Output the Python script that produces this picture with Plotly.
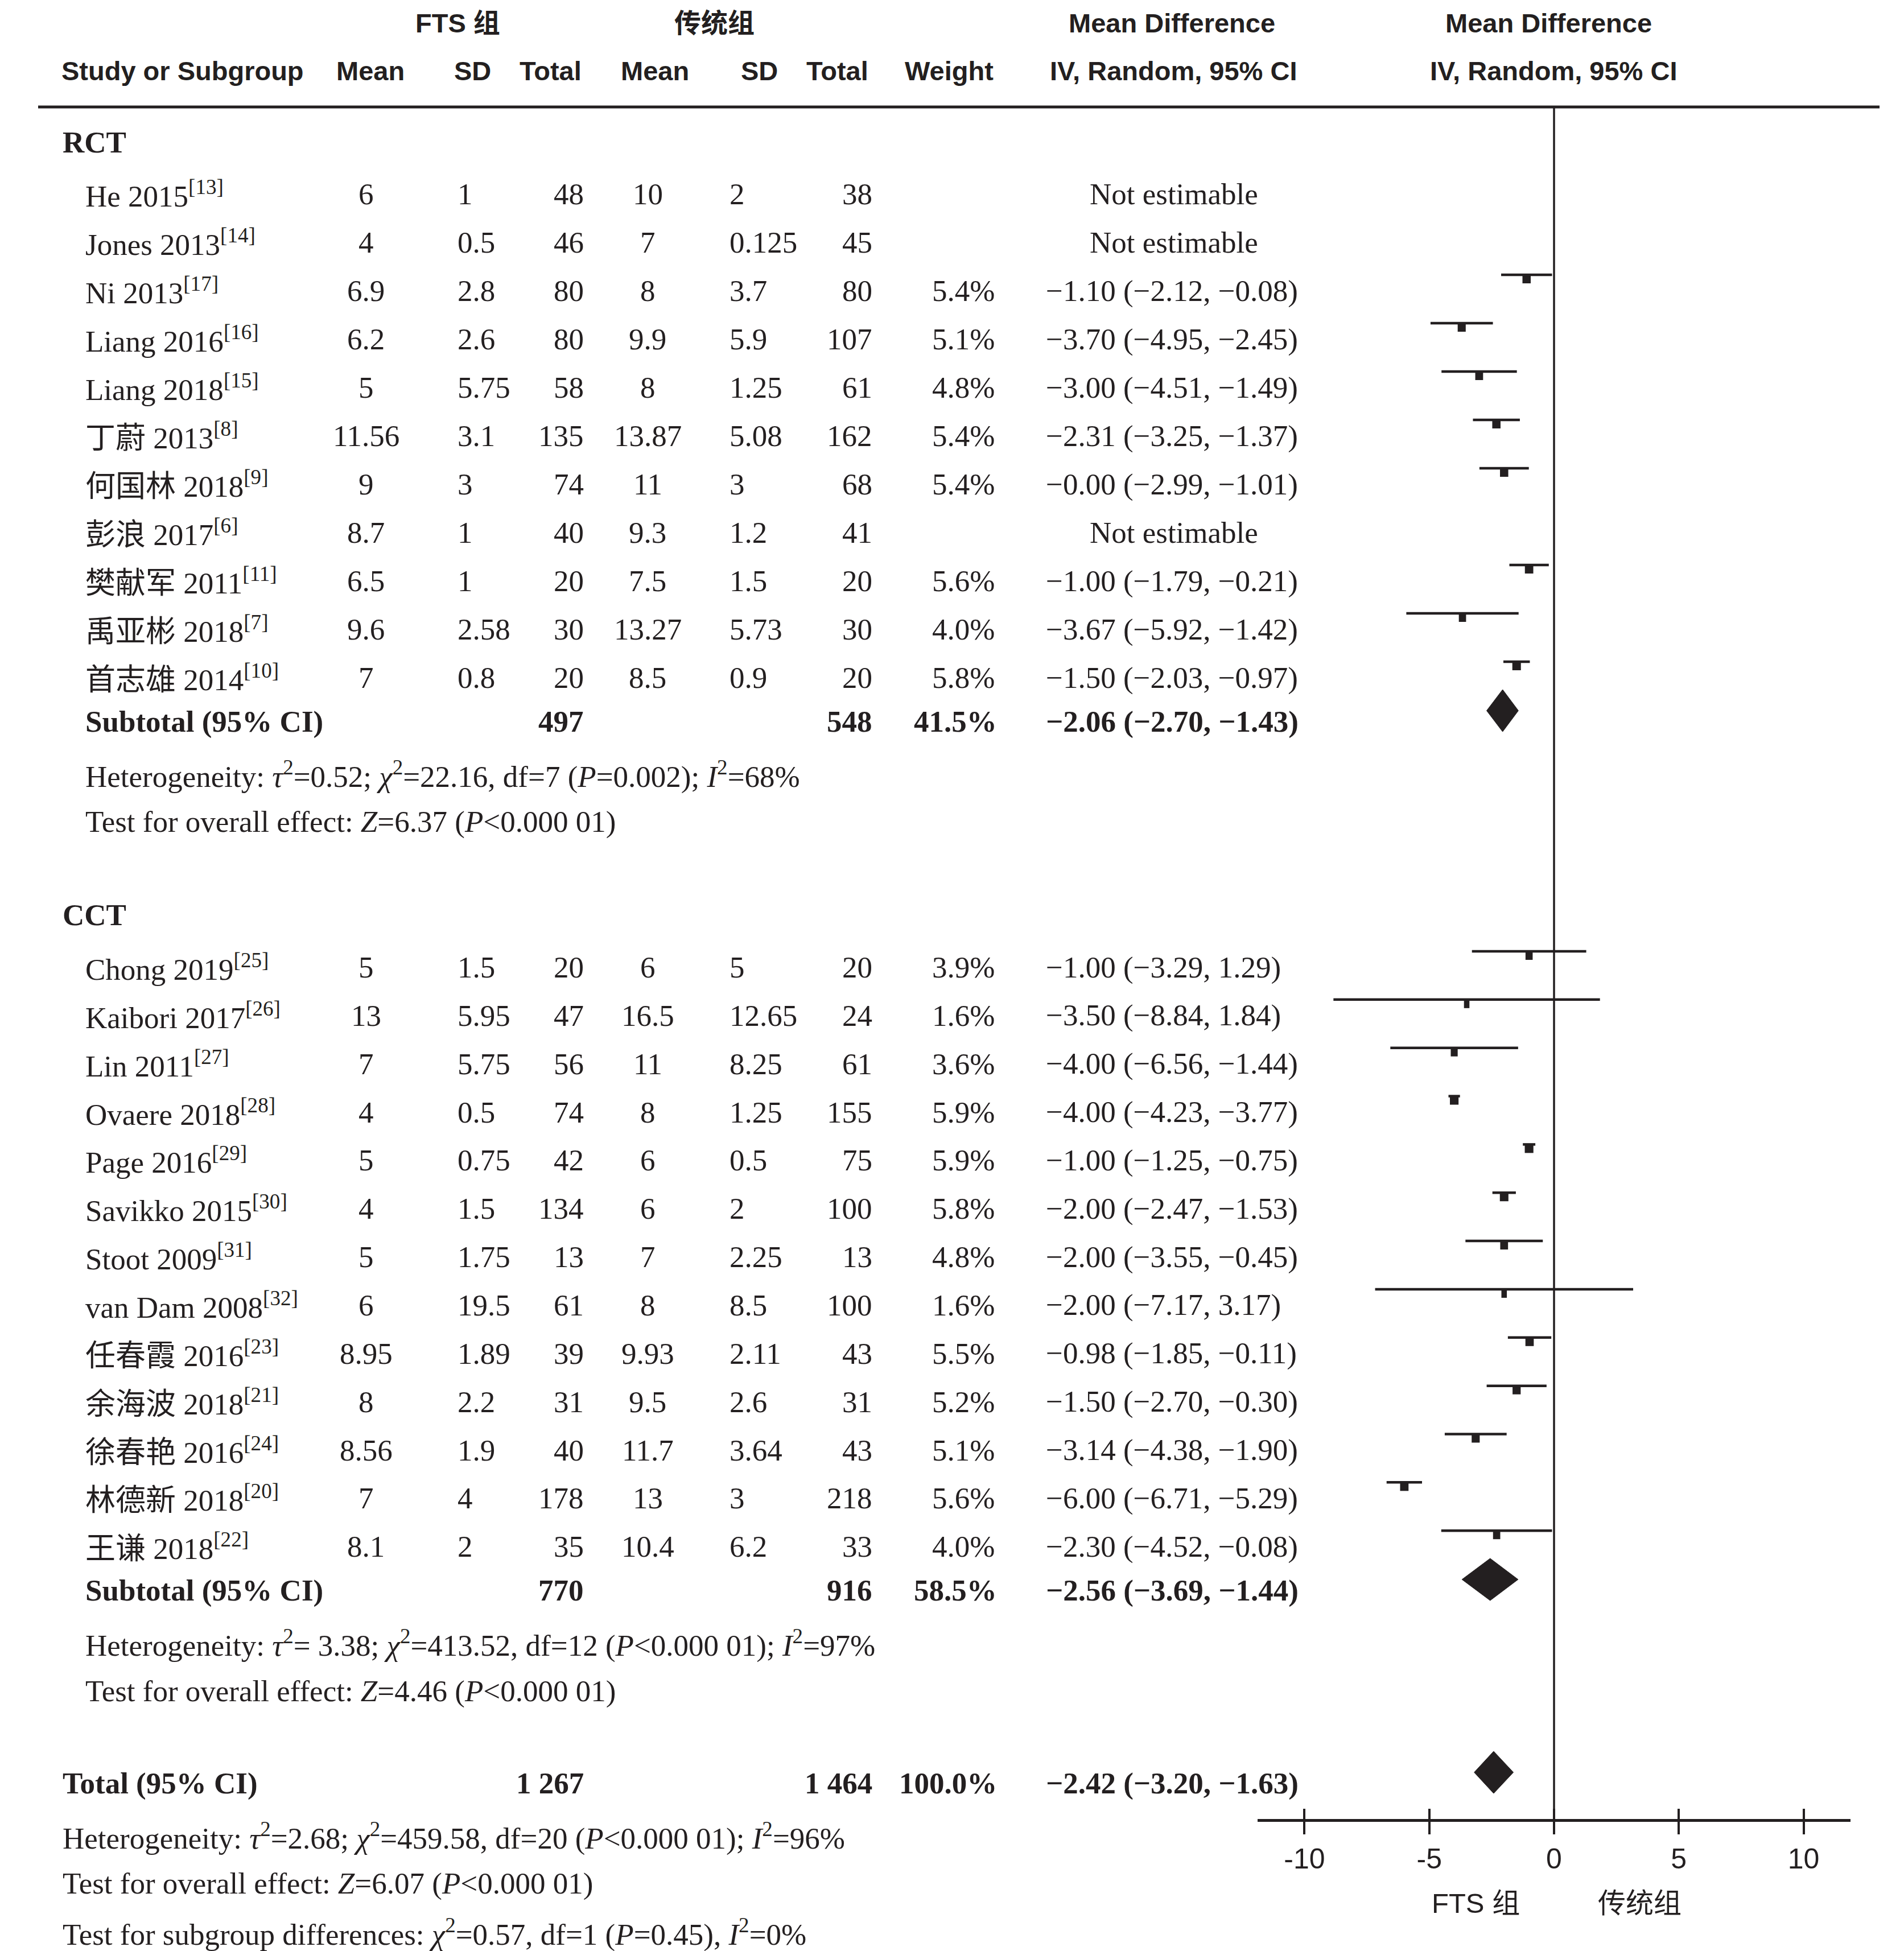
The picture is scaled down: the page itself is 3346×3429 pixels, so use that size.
import plotly.graph_objects as go

# ---------------- data ----------------
rct_names = ["He 2015<sup>[13]</sup>", "Jones 2013<sup>[14]</sup>", "Ni 2013<sup>[17]</sup>",
             "Liang 2016<sup>[16]</sup>", "Liang 2018<sup>[15]</sup>", "丁蔚 2013<sup>[8]</sup>",
             "何国林 2018<sup>[9]</sup>", "彭浪 2017<sup>[6]</sup>", "樊献军 2011<sup>[11]</sup>",
             "禹亚彬 2018<sup>[7]</sup>", "首志雄 2014<sup>[10]</sup>"]
rct_fts_mean = ["6", "4", "6.9", "6.2", "5", "11.56", "9", "8.7", "6.5", "9.6", "7"]
rct_fts_sd = ["1", "0.5", "2.8", "2.6", "5.75", "3.1", "3", "1", "1", "2.58", "0.8"]
rct_fts_n = ["48", "46", "80", "80", "58", "135", "74", "40", "20", "30", "20"]
rct_ctl_mean = ["10", "7", "8", "9.9", "8", "13.87", "11", "9.3", "7.5", "13.27", "8.5"]
rct_ctl_sd = ["2", "0.125", "3.7", "5.9", "1.25", "5.08", "3", "1.2", "1.5", "5.73", "0.9"]
rct_ctl_n = ["38", "45", "80", "107", "61", "162", "68", "41", "20", "30", "20"]
rct_weight = ["", "", "5.4%", "5.1%", "4.8%", "5.4%", "5.4%", "", "5.6%", "4.0%", "5.8%"]
rct_ci_text = ["Not estimable", "Not estimable", "−1.10 (−2.12, −0.08)", "−3.70 (−4.95, −2.45)",
               "−3.00 (−4.51, −1.49)", "−2.31 (−3.25, −1.37)", "−0.00 (−2.99, −1.01)",
               "Not estimable", "−1.00 (−1.79, −0.21)", "−3.67 (−5.92, −1.42)", "−1.50 (−2.03, −0.97)"]
rct_md = [None, None, -1.10, -3.70, -3.00, -2.31, -2.00, None, -1.00, -3.67, -1.50]
rct_lo = [None, None, -2.12, -4.95, -4.51, -3.25, -2.99, None, -1.79, -5.92, -2.03]
rct_hi = [None, None, -0.08, -2.45, -1.49, -1.37, -1.01, None, -0.21, -1.42, -0.97]
rct_w = [0, 0, 5.4, 5.1, 4.8, 5.4, 5.4, 0, 5.6, 4.0, 5.8]

cct_names = ["Chong 2019<sup>[25]</sup>", "Kaibori 2017<sup>[26]</sup>", "Lin 2011<sup>[27]</sup>",
             "Ovaere 2018<sup>[28]</sup>", "Page 2016<sup>[29]</sup>", "Savikko 2015<sup>[30]</sup>",
             "Stoot 2009<sup>[31]</sup>", "van Dam 2008<sup>[32]</sup>", "任春霞 2016<sup>[23]</sup>",
             "余海波 2018<sup>[21]</sup>", "徐春艳 2016<sup>[24]</sup>", "林德新 2018<sup>[20]</sup>",
             "王谦 2018<sup>[22]</sup>"]
cct_fts_mean = ["5", "13", "7", "4", "5", "4", "5", "6", "8.95", "8", "8.56", "7", "8.1"]
cct_fts_sd = ["1.5", "5.95", "5.75", "0.5", "0.75", "1.5", "1.75", "19.5", "1.89", "2.2", "1.9", "4", "2"]
cct_fts_n = ["20", "47", "56", "74", "42", "134", "13", "61", "39", "31", "40", "178", "35"]
cct_ctl_mean = ["6", "16.5", "11", "8", "6", "6", "7", "8", "9.93", "9.5", "11.7", "13", "10.4"]
cct_ctl_sd = ["5", "12.65", "8.25", "1.25", "0.5", "2", "2.25", "8.5", "2.11", "2.6", "3.64", "3", "6.2"]
cct_ctl_n = ["20", "24", "61", "155", "75", "100", "13", "100", "43", "31", "43", "218", "33"]
cct_weight = ["3.9%", "1.6%", "3.6%", "5.9%", "5.9%", "5.8%", "4.8%", "1.6%", "5.5%", "5.2%", "5.1%", "5.6%", "4.0%"]
cct_ci_text = ["−1.00 (−3.29, 1.29)", "−3.50 (−8.84, 1.84)", "−4.00 (−6.56, −1.44)",
               "−4.00 (−4.23, −3.77)", "−1.00 (−1.25, −0.75)", "−2.00 (−2.47, −1.53)",
               "−2.00 (−3.55, −0.45)", "−2.00 (−7.17, 3.17)", "−0.98 (−1.85, −0.11)",
               "−1.50 (−2.70, −0.30)", "−3.14 (−4.38, −1.90)", "−6.00 (−6.71, −5.29)",
               "−2.30 (−4.52, −0.08)"]
cct_md = [-1.00, -3.50, -4.00, -4.00, -1.00, -2.00, -2.00, -2.00, -0.98, -1.50, -3.14, -6.00, -2.30]
cct_lo = [-3.29, -8.84, -6.56, -4.23, -1.25, -2.47, -3.55, -7.17, -1.85, -2.70, -4.38, -6.71, -4.52]
cct_hi = [1.29, 1.84, -1.44, -3.77, -0.75, -1.53, -0.45, 3.17, -0.11, -0.30, -1.90, -5.29, -0.08]
cct_w = [3.9, 1.6, 3.6, 5.9, 5.9, 5.8, 4.8, 1.6, 5.5, 5.2, 5.1, 5.6, 4.0]

# summary rows: subtotal RCT, subtotal CCT, total
sum_fts_n = ["497", "770", "1 267"]
sum_ctl_n = ["548", "916", "1 464"]
sum_weight = ["41.5%", "58.5%", "100.0%"]
sum_ci_text = ["−2.06 (−2.70, −1.43)", "−2.56 (−3.69, −1.44)", "−2.42 (−3.20, −1.63)"]
sum_md = [-2.06, -2.56, -2.42]
sum_lo = [-2.70, -3.69, -3.20]
sum_hi = [-1.43, -1.44, -1.63]

rct_het = "Heterogeneity: <i>τ</i><sup>2</sup>=0.52; <i>χ</i><sup>2</sup>=22.16, df=7 (<i>P</i>=0.002); <i>I</i><sup>2</sup>=68%"
rct_test = "Test for overall effect: <i>Z</i>=6.37 (<i>P</i><0.000 01)"
cct_het = "Heterogeneity: <i>τ</i><sup>2</sup>= 3.38; <i>χ</i><sup>2</sup>=413.52, df=12 (<i>P</i><0.000 01); <i>I</i><sup>2</sup>=97%"
cct_test = "Test for overall effect: <i>Z</i>=4.46 (<i>P</i><0.000 01)"
tot_het = "Heterogeneity: <i>τ</i><sup>2</sup>=2.68; <i>χ</i><sup>2</sup>=459.58, df=20 (<i>P</i><0.000 01); <i>I</i><sup>2</sup>=96%"
tot_test = "Test for overall effect: <i>Z</i>=6.07 (<i>P</i><0.000 01)"
sub_test = "Test for subgroup differences: <i>χ</i><sup>2</sup>=0.57, df=1 (<i>P</i>=0.45), <i>I</i><sup>2</sup>=0%"

tick_vals = [-10, -5, 0, 5, 10]
tick_text = ["-10", "-5", "0", "5", "10"]

# ---------------- layout constants ----------------
W, H = 3346, 3429
INK = "#231f20"
SERIF = "Liberation Serif, Noto Sans CJK SC, serif"
SANS = "Liberation Sans, Arial, Noto Sans CJK SC, sans-serif"
BODY = 53
HDR = 47

X_AX0, X_AX1 = 2202, 3244
XR = 11.88
AXIS_Y = 3191
HLINE_Y = 180

# columns (px)
C_NAME, C_SEC = 140, 100
C_FM, C_FS, C_FN = 635, 794, 1020
C_CM, C_CS, C_CN = 1130, 1272, 1527
C_WT, C_CI, C_NE = 1742, 1828, 2055

fig = go.Figure()
annots = []


def txt(x, y, s, anchor="left", family=SERIF, size=BODY, bold=False):
    if bold:
        s = "<b>" + s + "</b>"
    annots.append(dict(x=x / W, y=y, xref="paper", yref="y", text=s, showarrow=False,
                       xanchor=anchor, yanchor="middle",
                       font=dict(family=family, size=size, color=INK)))


# headers
hy1 = 32
txt(796, hy1, "FTS 组", "center", SANS, HDR, True)
txt(1247, hy1, "传统组", "center", SANS, HDR, True)
txt(2051, hy1, "Mean Difference", "center", SANS, HDR, True)
txt(2713, hy1, "Mean Difference", "center", SANS, HDR, True)
hy = 116
txt(98, hy, "Study or Subgroup", "left", SANS, HDR, True)
txt(643, hy, "Mean", "center", SANS, HDR, True)
txt(857, hy, "SD", "right", SANS, HDR, True)
txt(1016, hy, "Total", "right", SANS, HDR, True)
txt(1143, hy, "Mean", "center", SANS, HDR, True)
txt(1361, hy, "SD", "right", SANS, HDR, True)
txt(1520, hy, "Total", "right", SANS, HDR, True)
txt(1740, hy, "Weight", "right", SANS, HDR, True)
txt(2054, hy, "IV, Random, 95% CI", "center", SANS, HDR, True)
txt(2722, hy, "IV, Random, 95% CI", "center", SANS, HDR, True)


def study_block(names, fm, fs, fn, cm, cs, cn, wt, ci, y0, step):
    ys = []
    for i in range(len(names)):
        y = y0 + i * step
        ys.append(y)
        txt(C_NAME, y, names[i])
        txt(C_FM, y, fm[i], "center")
        txt(C_FS, y, fs[i], "left")
        txt(C_FN, y, fn[i], "right")
        txt(C_CM, y, cm[i], "center")
        txt(C_CS, y, cs[i], "left")
        txt(C_CN, y, cn[i], "right")
        if wt[i]:
            txt(C_WT, y, wt[i], "right")
        if ci[i] == "Not estimable":
            txt(C_NE, y, ci[i], "center")
        else:
            txt(C_CI, y, ci[i], "left")
    return ys


txt(C_SEC, 242, "RCT", bold=True)
rct_y = study_block(rct_names, rct_fts_mean, rct_fts_sd, rct_fts_n, rct_ctl_mean, rct_ctl_sd,
                    rct_ctl_n, rct_weight, rct_ci_text, 333, 85.0)
txt(C_SEC, 1600, "CCT", bold=True)
cct_y = study_block(cct_names, cct_fts_mean, cct_fts_sd, cct_fts_n, cct_ctl_mean, cct_ctl_sd,
                    cct_ctl_n, cct_weight, cct_ci_text, 1692, 84.85)

sum_y = [1260, 2787, 3126]
sum_lbl = ["Subtotal (95% CI)", "Subtotal (95% CI)", "Total (95% CI)"]
sum_x = [C_NAME, C_NAME, C_SEC]
for i in range(3):
    y = sum_y[i]
    txt(sum_x[i], y, sum_lbl[i], bold=True)
    txt(C_FN, y, sum_fts_n[i], "right", bold=True)
    txt(C_CN, y, sum_ctl_n[i], "right", bold=True)
    txt(C_WT + 4, y, sum_weight[i], "right", bold=True)
    txt(C_CI, y, sum_ci_text[i], "left", bold=True)

txt(C_NAME, 1353, rct_het)
txt(C_NAME, 1436, rct_test)
txt(C_NAME, 2880, cct_het)
txt(C_NAME, 2964, cct_test)
txt(C_SEC, 3219, tot_het)
txt(C_SEC, 3302, tot_test)
txt(C_SEC, 3388, sub_test)

# axis captions
txt(2585, 3337, "FTS 组", "center", SANS, 49)
txt(2873, 3337, "传统组", "center", SANS, 49)

# ---------------- forest marks ----------------
all_md = rct_md + cct_md
all_lo = rct_lo + cct_lo
all_hi = rct_hi + cct_hi
all_w = rct_w + cct_w
all_y = rct_y + cct_y

lx, ly = [], []
for md, lo, hi, w, y in zip(all_md, all_lo, all_hi, all_w, all_y):
    if md is None:
        continue
    yl = y - 28
    lx += [lo, hi, None]
    ly += [yl, yl, None]
    # weight-scaled point estimate (drawn as a block hanging under the CI line)
    fig.add_trace(go.Scatter(x=[md, md], y=[yl, yl + 15], mode="lines",
                             line=dict(color=INK, width=7.5 + 1.3 * w), hoverinfo="skip"))

fig.add_trace(go.Scatter(x=lx, y=ly, mode="lines", line=dict(color=INK, width=4.5),
                         hoverinfo="skip"))

dx, dy = [], []
for md, lo, hi, y in zip(sum_md, sum_lo, sum_hi, sum_y):
    c = y - 19
    dx += [lo, md, hi, md, lo, None]
    dy += [c, c - 37, c, c + 37, c, None]
fig.add_trace(go.Scatter(x=dx, y=dy, mode="lines", fill="toself", fillcolor=INK,
                         line=dict(color=INK, width=1), hoverinfo="skip"))

# invisible trace for the overlay axis carrying inward ticks
fig.add_trace(go.Scatter(x=[0], y=[AXIS_Y], xaxis="x2", mode="markers",
                         marker=dict(opacity=0), hoverinfo="skip"))

# lines
shapes = [
    dict(type="line", xref="paper", yref="y", x0=59 / W, x1=3295 / W, y0=HLINE_Y, y1=HLINE_Y,
         line=dict(color=INK, width=5)),
    dict(type="line", xref="x", yref="y", x0=0, x1=0, y0=HLINE_Y, y1=AXIS_Y,
         line=dict(color=INK, width=3.5)),
]

dom = [X_AX0 / W, X_AX1 / W]
pos = 1 - AXIS_Y / H
fig.update_layout(
    width=W, height=H, margin=dict(l=0, r=0, t=0, b=0),
    paper_bgcolor="white", plot_bgcolor="white", showlegend=False,
    annotations=annots, shapes=shapes,
    yaxis=dict(range=[H, 0], domain=[0, 1], visible=False, fixedrange=True),
    xaxis=dict(domain=dom, range=[-XR, XR], anchor="free", position=pos,
               showline=True, linewidth=5, linecolor=INK, showgrid=False, zeroline=False,
               ticks="outside", ticklen=22, tickwidth=4, tickcolor=INK,
               tickvals=tick_vals, ticktext=tick_text,
               tickfont=dict(family=SANS, size=50, color=INK)),
    xaxis2=dict(domain=dom, range=[-XR, XR], overlaying="x", matches="x", anchor="free",
                position=pos, showline=False, showgrid=False, zeroline=False,
                ticks="inside", ticklen=20, tickwidth=4, tickcolor=INK,
                tickvals=tick_vals, showticklabels=False),
)

fig.write_html("out.html")
